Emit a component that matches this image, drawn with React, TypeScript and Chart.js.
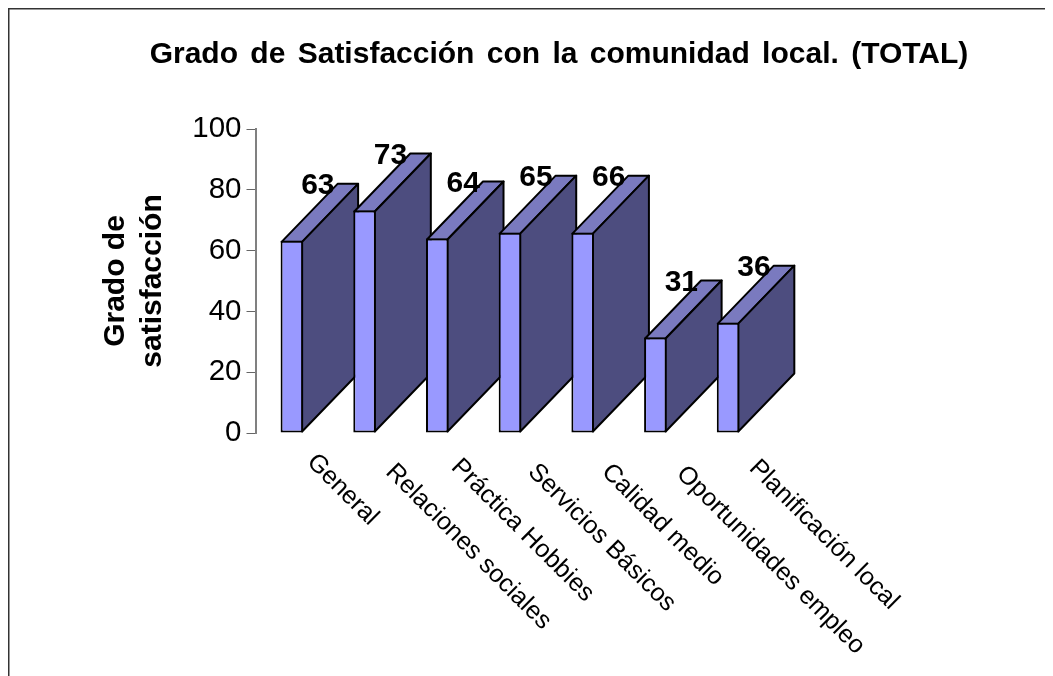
import React, { useEffect, useRef } from "react";
import { Chart, registerables } from "chart.js";

Chart.register(...registerables);

const categories = [
  "General",
  "Relaciones sociales",
  "Práctica Hobbies",
  "Servicios Básicos",
  "Calidad medio",
  "Oportunidades empleo",
  "Planificación local",
];
const barValues = [63.2, 73.2, 64, 65.9, 65.9, 31.4, 36.3];
const valueLabels = ["63", "73", "64", "65", "66", "31", "36"];
const titleText = "Grado de Satisfacción con la comunidad local. (TOTAL)";
const yTitleLines = ["Grado de", "satisfacción"];

const FONT = '"Liberation Sans", Arial, sans-serif';
const DX = 56;
const DY = 58;
const LABEL_NUDGE = [
  [-5, -5],
  [1, 5],
  [-6, 0],
  [-2, 5],
  [-1, 5],
  [1, 7],
  [1, 1],
];

const frame3d = {
  id: "frame3d",
  beforeDraw(chart: any) {
    const { ctx } = chart;
    ctx.save();
    ctx.fillStyle = "#fff";
    ctx.fillRect(0, 0, chart.width, chart.height);
    ctx.strokeStyle = "#333";
    ctx.lineWidth = 1.5;
    ctx.strokeRect(0.75, 0.75, chart.width + 20, chart.height + 20);
    ctx.fillStyle = "#000";
    ctx.font = `bold 30px ${FONT}`;
    ctx.textAlign = "center";
    ctx.textBaseline = "middle";
    (ctx as any).wordSpacing = "4px";
    ctx.fillText(titleText, 551, 47);
    ctx.restore();
  },
  beforeDatasetsDraw(chart: any) {
    const { ctx } = chart;
    const meta = chart.getDatasetMeta(0);
    ctx.save();
    ctx.strokeStyle = "#000";
    ctx.lineWidth = 2;
    ctx.lineJoin = "round";
    meta.data.forEach((b: any) => {
      const l = b.x - b.width / 2 + 1;
      const r = b.x + b.width / 2 - 1;
      const t = b.y + 1;
      const bt = b.base - 1;
      ctx.fillStyle = "#7A7ABF";
      ctx.beginPath();
      ctx.moveTo(l, t);
      ctx.lineTo(l + DX, t - DY);
      ctx.lineTo(r + DX, t - DY);
      ctx.lineTo(r, t);
      ctx.closePath();
      ctx.fill();
      ctx.stroke();
      ctx.fillStyle = "#4D4D7F";
      ctx.beginPath();
      ctx.moveTo(r, t);
      ctx.lineTo(r + DX, t - DY);
      ctx.lineTo(r + DX, bt - DY);
      ctx.lineTo(r, bt);
      ctx.closePath();
      ctx.fill();
      ctx.stroke();
    });
    ctx.restore();
  },
  afterDatasetsDraw(chart: any) {
    const { ctx } = chart;
    const meta = chart.getDatasetMeta(0);
    ctx.save();
    ctx.fillStyle = "#000";
    ctx.font = `bold 30px ${FONT}`;
    ctx.textAlign = "center";
    ctx.textBaseline = "middle";
    meta.data.forEach((b: any, i: number) => {
      ctx.fillText(valueLabels[i], b.x + 26, b.y - 55);
    });
    // rotated category labels
    const xs = chart.scales.x;
    ctx.font = `25.2px ${FONT}`;
    ctx.textAlign = "left";
    categories.forEach((c, i) => {
      ctx.save();
      ctx.translate(
        xs.getPixelForValue(i) + 24 + LABEL_NUDGE[i][0],
        chart.scales.y.getPixelForValue(0) + 30 + LABEL_NUDGE[i][1]
      );
      ctx.rotate(Math.PI / 4);
      ctx.fillText(c, 0, 0);
      ctx.restore();
    });
    ctx.restore();
  },
};

export default function App() {
  const ref = useRef<HTMLCanvasElement>(null);
  useEffect(() => {
    const chart = new Chart(ref.current!, {
      type: "bar",
      data: {
        labels: categories,
        datasets: [
          {
            data: barValues,
            backgroundColor: "#9999FF",
            borderColor: "#000",
            borderWidth: 2,
            borderSkipped: false,
            barPercentage: 0.31,
            categoryPercentage: 1,
          },
        ],
      },
      options: {
        responsive: false,
        animation: false,
        layout: { padding: { left: 89.5, right: 345.6, top: 121, bottom: 247 } },
        plugins: {
          legend: { display: false },
          tooltip: { enabled: false },
          title: { display: false },
        },
        scales: {
          x: {
            grid: { display: false },
            border: { display: false },
            ticks: { display: false },
          },
          y: {
            min: 0,
            max: 100,
            afterFit: (s: any) => {
              s.width = 158;
            },
            grid: { drawOnChartArea: false, color: "#666", tickLength: 9, lineWidth: 1 },
            border: { color: "#808080", width: 2 },
            ticks: {
              stepSize: 20,
              color: "#000",
              padding: 5,
              font: { family: FONT, size: 29.5 },
            },
            title: {
              display: true,
              text: yTitleLines,
              color: "#000",
              font: { family: FONT, size: 30, weight: "bold", lineHeight: 1.23 },
              padding: 0,
            },
          },
        },
      },
      plugins: [frame3d],
    } as any);
    return () => chart.destroy();
  }, []);
  return (
    <div style={{ width: 1045, height: 668, overflow: "hidden" }}>
      <canvas ref={ref} width={1102} height={680} style={{ display: "block" }} />
    </div>
  );
}
